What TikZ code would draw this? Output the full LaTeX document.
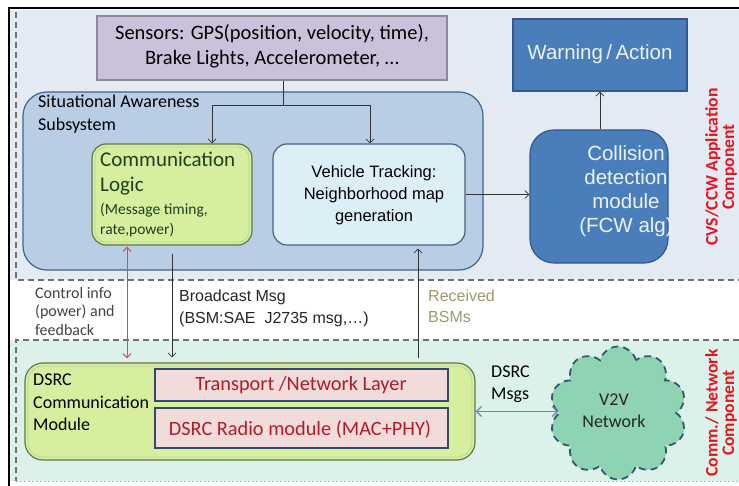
\documentclass[tikz,border=0pt]{standalone}
\usepackage{fontspec}
\setmainfont{Carlito}
\newfontfamily\arialf{Liberation Sans}
\usetikzlibrary{arrows.meta,shapes.symbols}
\definecolor{topbg}{HTML}{E3EAF4}
\definecolor{botbg}{HTML}{DDF1EB}
\definecolor{dashc}{HTML}{707070}
\definecolor{sensfill}{HTML}{CCC1DA}
\definecolor{sensdraw}{HTML}{8A8A98}
\definecolor{subfill}{HTML}{B9CDE5}
\definecolor{subdraw}{HTML}{42638C}
\definecolor{greenfill}{HTML}{D5EF9E}
\definecolor{greendraw}{HTML}{5E7A45}
\definecolor{greentext}{HTML}{1F3F1F}
\definecolor{vtfill}{HTML}{DDEFF6}
\definecolor{bluefill}{HTML}{4A7EBB}
\definecolor{bluedraw}{HTML}{34598A}
\definecolor{whitetext}{HTML}{EEF3FA}
\definecolor{pinkfill}{HTML}{F2DCDB}
\definecolor{pinkdraw}{HTML}{33496A}
\definecolor{darkred}{HTML}{B01C28}
\definecolor{labred}{HTML}{E8141C}
\definecolor{cloudfill}{HTML}{8FD4B2}
\definecolor{clouddraw}{HTML}{2F5A6E}
\definecolor{steel}{HTML}{5B8DB8}
\definecolor{olive}{HTML}{9C9A6E}
\definecolor{grtext}{HTML}{444444}
\definecolor{arrred}{HTML}{E04848}
\tikzset{
  box/.style={draw, inner sep=0pt, line width=1.2bp},
  arr/.style={draw=black!80, line width=0.8bp, -{Straight Barb[length=4bp,width=8bp]}},
  dashline/.style={draw=dashc, line width=1.3bp, dash pattern=on 6bp off 4bp},
  txt/.style={inner sep=0pt, align=center},
}
\begin{document}
\begin{tikzpicture}[x=1bp,y=-1bp]
\useasboundingbox (0,0) rectangle (739,486);
\fill[white] (0,0) rectangle (739,486);
% background regions
\fill[topbg] (10,10) rectangle (739,280);
\fill[botbg] (10,340) rectangle (739,481);
\draw[dashline] (16,12) -- (16,280) -- (739,280);
\draw[dashline] (739,340) -- (16,340) -- (16,481);
\draw[draw=dashc!50, line width=0.8bp, dash pattern=on 2bp off 2bp] (16,481) -- (739,481);
\draw[black, line width=2.5bp] (9,486) -- (9,8.2) -- (739,8.2);

% sensors
\node[box, draw=sensdraw, fill=sensfill, minimum width=350bp, minimum height=64bp] (sensors) at (272,48) {};
\node[txt, font=\fontsize{20.5bp}{25bp}\selectfont] (senstext) at (272,46) {Sensors: GPS(position, velocity, time),\\Brake Lights, Accelerometer, \dots};

% subsystem
\node[box, draw=subdraw, fill=subfill, rounded corners=24bp, minimum width=460bp, minimum height=178bp] (subsys) at (253,181) {};
\node[txt, align=left, anchor=north west, font=\fontsize{18bp}{23bp}\selectfont] (subtext) at (38,95) {Situational Awareness\\ Subsystem};

% communication logic
\node[box, draw=greendraw, fill=greenfill, rounded corners=14bp, minimum width=160bp, minimum height=101bp] (comm) at (172,194.5) {};
\draw[draw=white!40!greenfill!70!greendraw, line width=0.7bp, rounded corners=11bp] (95,147) rectangle (249,242);
\node[txt, align=left, anchor=north west, text=greentext, font=\fontsize{21bp}{25bp}\selectfont] (commtitle) at (100,152) {Communication\\Logic};
\node[txt, align=left, anchor=north west, text=greentext, font=\fontsize{15.5bp}{20bp}\selectfont] (commsub) at (100,203) {(Message timing,\\rate,power)};

% vehicle tracking
\node[box, draw=subdraw, fill=vtfill, rounded corners=14bp, minimum width=192bp, minimum height=101bp] (vt) at (369,194.5) {};
\node[txt, font=\arialf\fontsize{16.5bp}{22bp}\selectfont] (vttext) at (374,195) {Vehicle Tracking:\\Neighborhood map\\generation};

% collision & warning
\node[box, draw=bluedraw, fill=bluefill, rounded corners=24bp, minimum width=138bp, minimum height=133bp] (coll) at (599,196.5) {};
\node[txt, text=whitetext, font=\arialf\fontsize{20.5bp}{24bp}\selectfont] (colltext) at (626,191) {Collision\\detection\\module\\(FCW alg)};
\node[box, draw=bluedraw, fill=bluefill, minimum width=174bp, minimum height=72bp] (warn) at (600,55) {};
\node[txt, text=whitetext, font=\arialf\fontsize{20.5bp}{24bp}\selectfont] (warntext) at (600,54) {Warning\,/\,Action};

% sensor arrows
\coordinate (j) at (283,105);
\coordinate (jl) at (212,105);
\coordinate (jr) at (370,105);
\draw[draw=black!80, line width=0.8bp] (sensors.south -| j) -- (j);
\draw[arr] (j) -| (comm.north -| jl);
\draw[arr] (j) -| (vt.north -| jr);
\draw[arr] (vt.east) -- (coll.west |- vt.east);
\draw[arr] (coll.north -| warn.south) -- (warn.south);

% CVS label
\node[txt, rotate=90, text=labred, font=\bfseries\fontsize{17.6bp}{16.5bp}\selectfont] (cvs) at (721,167) {CVS/CCW Application\\Component};

% middle labels
\node[txt, align=left, anchor=north west, text=grtext, font=\fontsize{16bp}{18.5bp}\selectfont] (ctrl) at (35,287) {Control info\\(power) and\\feedback};
\node[txt, align=left, anchor=north west, text=black!85, font=\arialf\fontsize{16bp}{22bp}\selectfont] (bcast) at (179,290) {Broadcast Msg\\(BSM:SAE\ \ J2735 msg,\dots)};
\node[txt, align=left, anchor=north west, text=olive, font=\arialf\fontsize{16bp}{21bp}\selectfont] (recv) at (428,290) {Received\\BSMs};

% DSRC module
\node[box, draw=greendraw, fill=greenfill, rounded corners=18bp, minimum width=450bp, minimum height=97bp] (dsrc) at (250,411.5) {};
\draw[draw=white!40!greenfill!70!greendraw, line width=0.7bp, rounded corners=15bp] (28,366) rectangle (472,457);
\node[txt, align=left, anchor=north west, text=black, font=\fontsize{18bp}{22.5bp}\selectfont] (dsrctext) at (33,374) {DSRC\\Communication\\Module};
\node[box, draw=pinkdraw, fill=pinkfill, line width=2bp, minimum width=293bp, minimum height=32bp] (trans) at (301.5,385) {};
\node[txt, text=darkred, font=\fontsize{20.3bp}{24bp}\selectfont] (transtext) at (301,385) {Transport /Network Layer};
\node[box, draw=pinkdraw, fill=pinkfill, line width=2bp, minimum width=293bp, minimum height=40bp] (radio) at (301.5,428) {};
\node[txt, text=darkred, font=\fontsize{20.3bp}{24bp}\selectfont] (radiotext) at (300,429) {DSRC Radio module (MAC+PHY)};

% cloud
\node[cloud, cloud puffs=10, cloud ignores aspect, draw=clouddraw, fill=cloudfill, line width=1.8bp, dash pattern=on 7bp off 5bp, minimum width=137bp, minimum height=133bp, inner sep=0pt] (cloud) at (618,413) {};
\node[txt, text=black!85, font=\fontsize{18bp}{22bp}\selectfont] (cloudtext) at (614,411) {V2V\\Network};

% DSRC msgs
\node[txt, align=left, anchor=north west, text=black, font=\fontsize{18bp}{22bp}\selectfont] (msgs) at (491,366) {DSRC\\Msgs};
\draw[draw=steel, line width=1.3bp, {Straight Barb[length=5bp,width=10bp]}-{Straight Barb[length=5bp,width=10bp]}] (dsrc.east) -- (cloud.west |- dsrc.east);

% vertical arrows
\draw[draw=arrred, line width=1bp, {Straight Barb[length=4bp,width=8bp]}-{Straight Barb[length=4bp,width=8bp]}, shorten <=1bp, shorten >=4bp] (comm.south -| 127,0) -- (dsrc.north -| 127,0);
\draw[arr, shorten <=8bp, shorten >=5bp] (comm.south) -- (dsrc.north -| comm.south);
\draw[arr, shorten <=4bp, shorten >=3bp] (dsrc.north -| 418,0) -- (vt.south -| 418,0);

% comm label
\node[txt, rotate=90, text=labred, font=\bfseries\fontsize{17.6bp}{16.5bp}\selectfont] (commlab) at (721,413) {Comm./ Network\\Component};
\end{tikzpicture}
\end{document}
